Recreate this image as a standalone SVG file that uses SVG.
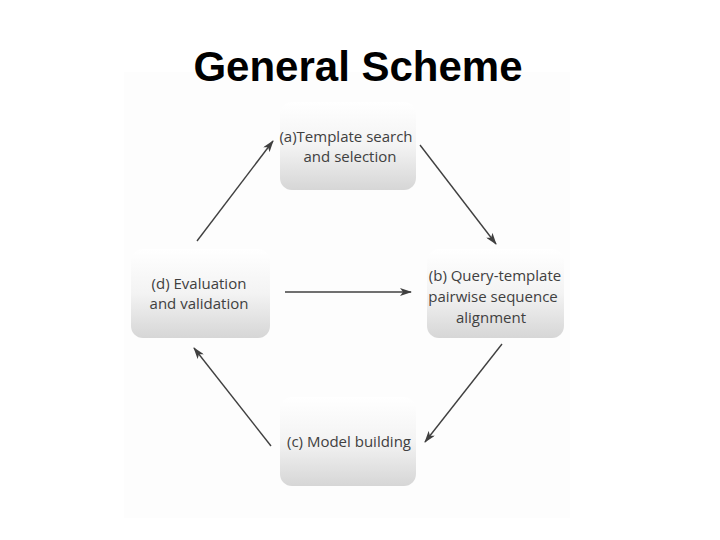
<svg xmlns="http://www.w3.org/2000/svg" width="720" height="540" viewBox="0 0 720 540">
<defs>
<linearGradient id="g" x1="0" y1="0" x2="0" y2="1"><stop offset="0" stop-color="#ffffff"/><stop offset="0.5" stop-color="#f3f3f3"/><stop offset="1" stop-color="#d6d6d6"/></linearGradient>
<marker id="ah" viewBox="0 0 12 8" refX="11" refY="4" markerWidth="12" markerHeight="8" markerUnits="userSpaceOnUse" orient="auto"><path d="M0,0 L12,4 L0,8 L3,4 Z" fill="#404040"/></marker>
</defs>
<style>
.box{fill:url(#g);}
.t{font-family:"Open Sans","Liberation Sans",sans-serif;font-size:15px;fill:#404040;text-anchor:middle}
.c{stroke:#404040;stroke-width:1.4;fill:none;marker-end:url(#ah)}
</style>
<rect width="720" height="540" fill="#fff"/>
<rect x="124" y="72" width="446" height="446" fill="#fdfdfd"/>
<text x="358" y="81" font-family="Liberation Sans,Arial,sans-serif" font-size="42" font-weight="bold" text-anchor="middle" fill="#000">General Scheme</text>
<g id="node-a"><rect class="box" x="280" y="102" width="136" height="88" rx="12"/><text class="t" x="346" y="142">(a)Template search</text><text class="t" x="350" y="162">and selection</text></g>
<g id="node-b"><rect class="box" x="427" y="249" width="137" height="89" rx="12"/><text class="t" x="495" y="281">(b) Query-template</text><text class="t" x="493" y="302">pairwise sequence</text><text class="t" x="491" y="323">alignment</text></g>
<g id="node-c"><rect class="box" x="280" y="397" width="136" height="89" rx="12"/><text class="t" x="349" y="447">(c) Model building</text></g>
<g id="node-d"><rect class="box" x="131" y="249" width="139" height="89" rx="12"/><text class="t" x="199" y="289">(d) Evaluation</text><text class="t" x="199" y="309">and validation</text></g>
<g id="connectors">
<line class="c" x1="420" y1="145" x2="496" y2="244"/>
<line class="c" x1="502" y1="344" x2="425" y2="442"/>
<line class="c" x1="271" y1="446" x2="194" y2="348"/>
<line class="c" x1="197" y1="241" x2="273" y2="141"/>
<line class="c" x1="285" y1="292" x2="411" y2="292"/>
</g>
</svg>
